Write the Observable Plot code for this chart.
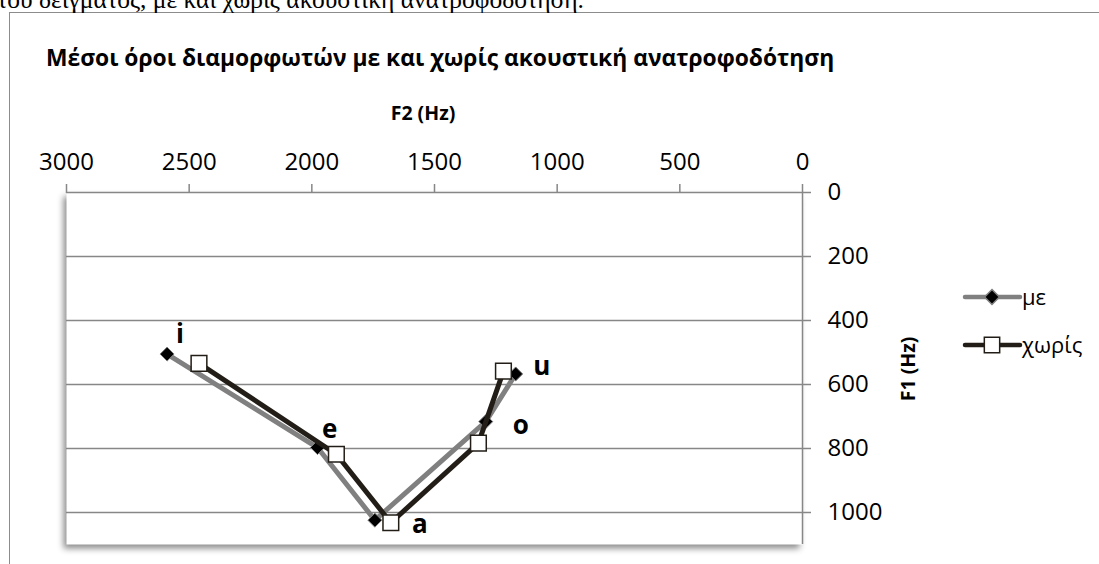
<!DOCTYPE html>
<html>
<head>
<meta charset="utf-8">
<script src="https://cdn.jsdelivr.net/npm/d3@7"></script>
<script src="https://cdn.jsdelivr.net/npm/@observablehq/plot@0.6"></script>
<style>
  html, body { margin: 0; padding: 0; background: #fff; }
  #wrap { position: relative; width: 1099px; height: 564px; overflow: hidden; background: #fff; }
  #outer { position: absolute; left: 9px; top: 12px; width: 1200px; height: 700px; border-left: 1.5px solid #8c8c8c; border-top: 1.5px solid #8c8c8c; }
  #chart { position: absolute; left: 0; top: 0; }
</style>
</head>
<body>
<div id="wrap">
  <div id="outer"></div>
  <div id="chart"></div>
</div>
<script>
// ---- data ----
const vowels = ["i", "e", "a", "o", "u"];
const withF2 = [2590, 1977, 1743, 1291, 1169];     // "με"
const withF1 = [505, 797, 1024, 716, 567];
const withoutF2 = [2460, 1900, 1678, 1321, 1219];  // "χωρίς"
const withoutF1 = [534, 818, 1032, 783, 558];
const labelF2 = [2538, 1927, 1560, 1148, 1063];    // vowel label anchors
const labelF1 = [445, 741, 1037, 729, 545];
const xTicks = [3000, 2500, 2000, 1500, 1000, 500, 0];
const yTicks = [0, 200, 400, 600, 800, 1000];
const seriesNames = ["με", "χωρίς"];
const captionText = "του δείγματος, με και χωρίς ακουστική ανατροφοδότηση.";
const titleText = "Μέσοι όροι διαμορφωτών με και χωρίς ακουστική ανατροφοδότηση";
const xLabel = "F2 (Hz)";
const yLabel = "F1 (Hz)";

const withData = vowels.map((v, i) => ({vowel: v, F2: withF2[i], F1: withF1[i]}));
const withoutData = vowels.map((v, i) => ({vowel: v, F2: withoutF2[i], F1: withoutF1[i]}));
const labelData = vowels.map((v, i) => ({vowel: v, F2: labelF2[i], F1: labelF1[i]}));

const grey = "#808080";
const dark = "#221e17";
const axisGrey = "#878787";

const chart = Plot.plot({
  width: 1099,
  height: 564,
  marginLeft: 66,
  marginRight: 297,
  marginTop: 192,
  marginBottom: 20,
  style: {fontFamily: "'Open Sans', sans-serif", background: "transparent", overflow: "visible", color: "#000"},
  x: {domain: [0, 3000], reverse: true},
  y: {domain: [0, 1100], reverse: true},
  marks: [
    Plot.frame({fill: "white", stroke: null}),
    Plot.gridY(yTicks.slice(1), {stroke: axisGrey, strokeOpacity: 1, strokeWidth: 1.5}),
    Plot.ruleY([0], {stroke: axisGrey, strokeWidth: 1.5}),
    Plot.ruleX([0], {stroke: axisGrey, strokeWidth: 1.5}),
    Plot.axisX(xTicks, {anchor: "top", tickSize: 9, tickPadding: 14, fontSize: 24, tickFormat: "d", label: null, stroke: axisGrey, strokeWidth: 1.5, fill: "#000"}),
    Plot.axisY(yTicks, {anchor: "right", tickSize: 8, tickPadding: 17, fontSize: 24, tickFormat: "d", label: null, stroke: axisGrey, strokeWidth: 1.5, fill: "#000"}),
    Plot.line(withData, {x: "F2", y: "F1", stroke: grey, strokeWidth: 5, strokeLinejoin: "round"}),
    Plot.dot(withData, {x: "F2", y: "F1", symbol: "diamond2", r: 6.3, fill: "#000", stroke: grey, strokeWidth: 1}),
    Plot.line(withoutData, {x: "F2", y: "F1", stroke: dark, strokeWidth: 5, strokeLinejoin: "round"}),
    Plot.dot(withoutData, {x: "F2", y: "F1", symbol: "square2", r: 10, fill: "#fff", stroke: dark, strokeWidth: 1.5}),
    Plot.text(labelData, {x: "F2", y: "F1", text: "vowel", fontSize: 26, fontWeight: "bold", fill: "#000"})
  ]
});

document.getElementById("chart").appendChild(chart);

// drop shadow on plot area
const frameEl = chart.querySelector('[aria-label="frame"]');
if (frameEl) frameEl.style.filter = "drop-shadow(-3px 4px 3px rgba(0,0,0,0.45))";

const svg = d3.select(chart);
const ff = "'Open Sans', sans-serif";

svg.append("text").attr("x", -3).attr("y", 8).attr("text-anchor", "start")
  .attr("font-family", "'Liberation Serif', 'DejaVu Serif', serif").attr("font-size", 25.5)
  .attr("fill", "#000").text(captionText);
svg.append("text").attr("x", 46).attr("y", 66).attr("text-anchor", "start").attr("font-family", ff).attr("font-size", 22.8)
  .attr("font-weight", "bold").attr("fill", "#000").text(titleText);
svg.append("text").attr("x", 423).attr("y", 120).attr("text-anchor", "middle").attr("font-family", ff)
  .attr("font-size", 19.5).attr("font-weight", "bold").attr("fill", "#000").text(xLabel);
svg.append("text").attr("transform", "translate(915,369) rotate(-90)").attr("text-anchor", "middle")
  .attr("font-family", ff).attr("font-size", 19.5).attr("font-weight", "bold").attr("fill", "#000").text(yLabel);

// legend
const lg = svg.append("g");
const legendRows = [
  {name: seriesNames[0], y: 297, stroke: grey, symbol: d3.symbolDiamond2, fill: "#000", ms: 140, mstroke: grey},
  {name: seriesNames[1], y: 345, stroke: dark, symbol: d3.symbolSquare2, fill: "#fff", ms: 300, mstroke: dark}
];
legendRows.forEach(r => {
  lg.append("line").attr("x1", 965).attr("x2", 1020).attr("y1", r.y).attr("y2", r.y)
    .attr("stroke", r.stroke).attr("stroke-width", 4.5).attr("stroke-linecap", "round");
  lg.append("path").attr("transform", `translate(992,${r.y})`).attr("d", d3.symbol(r.symbol, r.ms)())
    .attr("fill", r.fill).attr("stroke", r.mstroke).attr("stroke-width", 1.5);
  lg.append("text").attr("x", 1022).attr("y", r.y).attr("dy", "0.35em").attr("text-anchor", "start")
    .attr("font-family", ff).attr("font-size", 22).attr("fill", "#000").text(r.name);
});
</script>
</body>
</html>
